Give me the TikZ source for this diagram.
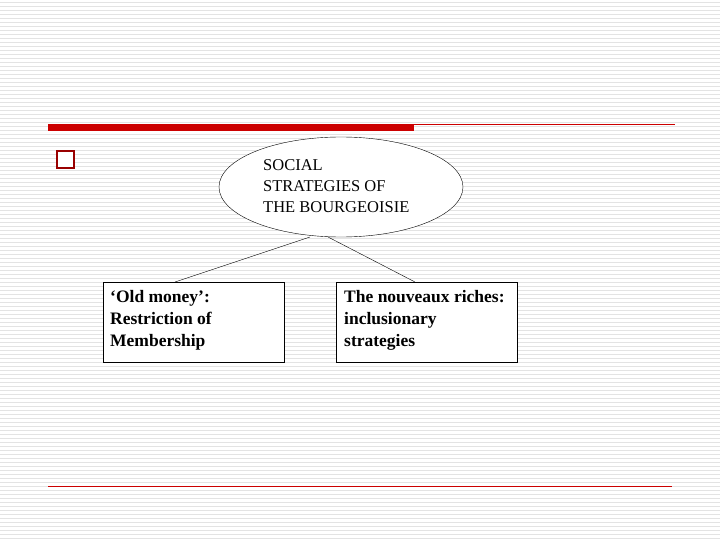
\documentclass[tikz,border=0pt]{standalone}
\usepackage{fontspec}
\setmainfont{Liberation Serif}
\usetikzlibrary{shapes.geometric}
\begin{document}
\begin{tikzpicture}[x=1pt,y=-1pt,
  boxst/.style={draw,thin,minimum width=181pt,minimum height=80pt,inner sep=0pt},
  txt/.style={font=\fontsize{17.5}{22}\selectfont\bfseries,align=left,inner sep=0pt},
  conn/.style={draw,thin}]
\useasboundingbox (0,0) rectangle (720,540);
\foreach \y in {2,6,...,538} \draw[gray!22,line width=0.6pt] (0,\y) -- (720,\y);
\fill[red!80!black] (48,124) rectangle (414,131);
\draw[red!80!black,line width=0.6pt] (414,124) -- (675,124);
\draw[red!80!black,line width=0.6pt] (48,486) -- (672,486);
\draw[red!60!black,line width=2.5pt,fill=white] (57,151) rectangle (74,168);
\node[draw,thin,ellipse,fill=white,minimum width=244pt,minimum height=100pt] (e) at (341,187) {};
\node[font=\fontsize{16.5}{21}\selectfont,align=left,anchor=north west,inner sep=0pt] (et) at (263,159) {SOCIAL\\STRATEGIES OF\\THE BOURGEOISIE};
\node[boxst,fill=white] (b1) at (193.5,322) {};
\node[boxst,fill=white] (b2) at (427,322) {};
\node[txt,anchor=north west] (t1) at (110,290) {‘Old money’:\\Restriction of\\Membership};
\node[txt,anchor=north west] (t2) at (344,290) {The nouveaux riches:\\inclusionary\\strategies};
\coordinate (a1) at (310,237); \coordinate (a2) at (328,237);
\coordinate (c1) at (175,282); \coordinate (c2) at (415,282);
\draw[conn] (a1) -- (c1);
\draw[conn] (a2) -- (c2);
\end{tikzpicture}
\end{document}
